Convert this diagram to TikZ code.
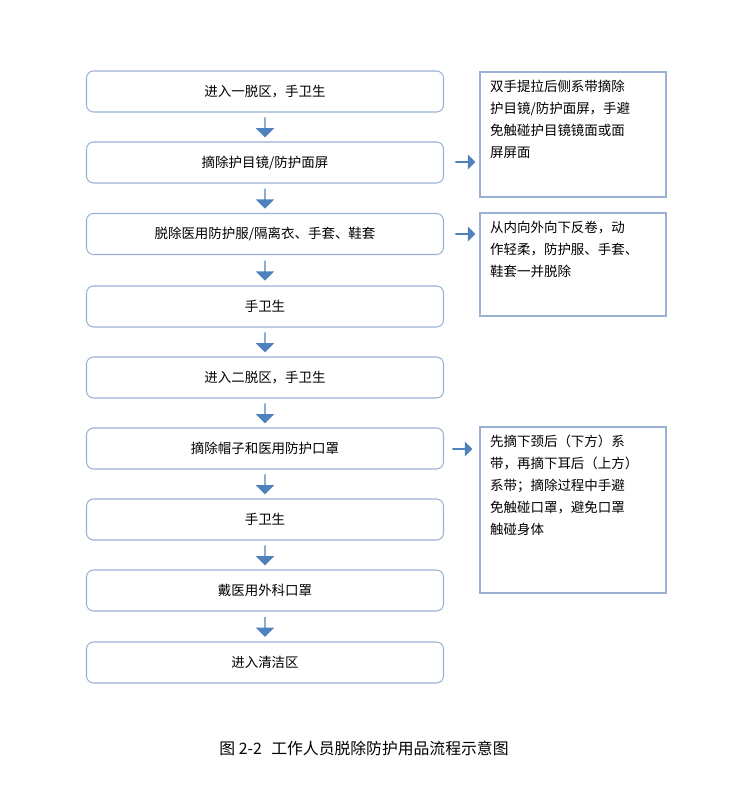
\documentclass[tikz,border=0pt]{standalone}
\usepackage{fontspec}
\setmainfont{Noto Sans CJK SC}
\usetikzlibrary{shapes.arrows,calc}
\definecolor{boxline}{HTML}{9BB1D4}
\definecolor{arrowblue}{HTML}{4F81BD}
\tikzset{
  stepbox/.style={draw=boxline, line width=0.9pt, rounded corners=6pt, minimum width=10.71cm, minimum height=1.23cm, font=\fontsize{11.5}{15}\selectfont},
  notebox/.style={draw=boxline, line width=2pt, anchor=north west, inner sep=0pt},
  notetext/.style={anchor=north west, align=left, font=\fontsize{11.5}{18.8}\selectfont},
  downarrow/.style={single arrow, fill=arrowblue, draw=none, shape border rotate=270, minimum height=0.6cm, minimum width=0.55cm, single arrow head extend=0.08cm, inner sep=0pt},
  rightarrow/.style={single arrow, fill=arrowblue, draw=none, minimum height=0.6cm, minimum width=0.45cm, single arrow head extend=0.06cm, inner sep=0pt}
}
\begin{document}
\begin{tikzpicture}[x=0.03cm, y=-0.03cm]
\useasboundingbox (0,0) rectangle (738,789);

% steps on the left
\node[stepbox] (s1) at (265,91.5) {进入一脱区，手卫生};
\node[stepbox] (s2) at (265,162.5) {摘除护目镜/防护面屏};
\node[stepbox] (s3) at (265,234) {脱除医用防护服/隔离衣、手套、鞋套};
\node[stepbox] (s4) at (265,306.5) {手卫生};
\node[stepbox] (s5) at (265,377.5) {进入二脱区，手卫生};
\node[stepbox] (s6) at (265,448.5) {摘除帽子和医用防护口罩};
\node[stepbox] (s7) at (265,519.5) {手卫生};
\node[stepbox] (s8) at (265,590.5) {戴医用外科口罩};
\node[stepbox] (s9) at (265,662.5) {进入清洁区};

% arrows between steps
\foreach \a/\b in {s1/s2,s2/s3,s3/s4,s4/s5,s5/s6,s6/s7,s7/s8,s8/s9}
  \node[downarrow] (d\a) at ($(\a.south)!0.5!(\b.north)$) {};

% notes on the right
\draw[notebox] (480,72) rectangle (666,197);
\node[notetext] (n1) at (486,76) {双手提拉后侧系带摘除\\护目镜/防护面屏，手避\\免触碰护目镜镜面或面\\屏屏面};
\draw[notebox] (480,213) rectangle (666,316);
\node[notetext] (n2) at (486,217) {从内向外向下反卷，动\\作轻柔，防护服、手套、\\鞋套一并脱除};
\draw[notebox] (480,427) rectangle (666,593);
\node[notetext] (n3) at (486,431) {先摘下颈后（下方）系\\带，再摘下耳后（上方）\\系带；摘除过程中手避\\免触碰口罩，避免口罩\\触碰身体};

\node[rightarrow] (r1) at (465,162) {};
\node[rightarrow] (r2) at (465,234) {};
\node[rightarrow] (r3) at (462,449) {};

% caption
\node[font=\fontsize{13.5}{16}\selectfont] (cap) at (364,748) {图 2-2\hspace{0.6em}工作人员脱除防护用品流程示意图};
\end{tikzpicture}
\end{document}
